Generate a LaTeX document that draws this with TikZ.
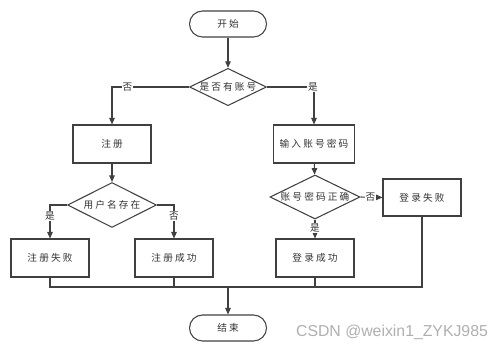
\documentclass[tikz,border=0pt]{standalone}
\usepackage{fontspec}
\usepackage{tikz}
\usetikzlibrary{arrows.meta, positioning, shapes.geometric}
\newfontfamily\cjk[LetterSpace=22]{Noto Sans CJK SC}
\setsansfont{Liberation Sans}
\definecolor{flowline}{RGB}{64, 64, 64}
\definecolor{flowtext}{RGB}{50, 50, 50}
\definecolor{markgray}{RGB}{175, 175, 175}

\begin{document}
\begin{tikzpicture}[
  x=0.02cm, y=-0.02cm,
  term/.style={
    draw=flowline, line width=0.6pt, rounded corners=0.26cm,
    minimum width=1.54cm, minimum height=0.52cm,
    font=\cjk\fontsize{5.5}{6}\selectfont, text=flowtext
  },
  proc/.style={
    draw=flowline, line width=0.6pt,
    minimum width=1.56cm, minimum height=0.76cm,
    font=\cjk\fontsize{5.5}{6}\selectfont, text=flowtext
  },
  decide/.style={
    diamond, draw=flowline, line width=0.6pt, inner sep=0pt,
    minimum width=1.54cm, minimum height=0.74cm, aspect=2,
    font=\cjk\fontsize{5.5}{6}\selectfont, text=flowtext
  },
  flow/.style={line width=0.6pt, color=flowline},
  go/.style={flow, -{Triangle[length=1.3mm, width=1.1mm]}},
  tag/.style={font=\cjk\fontsize{5.5}{6}\selectfont, text=flowtext,
              fill=white, inner sep=0.5pt}
]
  \useasboundingbox (0,0) rectangle (500,352);

  % --- Nodes ---
  \node[term] (start) at (228, 24) {开始};
  \node[decide] (hasacc) at (228, 87) {是否有账号};

  \node[proc] (reg) at (112, 144) {注册};
  \node[proc] (input) at (314, 144) {输入账号密码};

  \node[decide, minimum width=1.78cm, minimum height=0.9cm] (exists) at (112, 205) {用户名存在};
  \node[decide, minimum width=1.8cm, minimum height=0.88cm] (pwok) at (315, 197) {账号密码正确};

  \node[proc] (regfail) at (50, 258) {注册失败};
  \node[proc] (regok) at (174, 258) {注册成功};
  \node[proc] (loginok) at (315, 258) {登录成功};
  \node[proc, minimum height=0.74cm] (loginfail) at (422, 197.5) {登录失败};

  \node[term] (stop) at (228, 328) {结束};

  \coordinate (merge) at (228, 287);

  % --- Connectors ---
  \draw[go] (start) -- (hasacc);

  % no account -> register
  \draw[go] (hasacc.west) -| node[tag, pos=0.4] {否} (reg.north);
  % has account -> login
  \draw[go] (hasacc.east) -| node[tag, pos=0.49] {是} (input.north);

  \draw[go] (reg) -- (exists);
  \draw[go] (exists.west) -| node[tag, pos=0.66] {是} (regfail.north);
  \draw[go] (exists.east) -| node[tag, pos=0.66] {否} (regok.north);

  \draw[go] (input) -- (pwok);
  \draw[go] (pwok.east) -- node[tag, pos=0.45] {否} (loginfail.west);
  \draw[go] (pwok.south) -- node[tag, pos=0.45] {是} (loginok.north);

  % everything ends up at the end node
  \draw[flow] (regfail.south) |- (merge);
  \draw[flow] (regok.south) |- (merge);
  \draw[flow] (loginok.south) |- (merge);
  \draw[flow] (loginfail.south) |- (merge);
  \draw[go] (merge) -- (stop);

  \node[font=\sffamily\fontsize{9}{10}\selectfont, text=markgray] (mark) at (392, 332) {CSDN @weixin1\_ZYKJ985};

\end{tikzpicture}
\end{document}
